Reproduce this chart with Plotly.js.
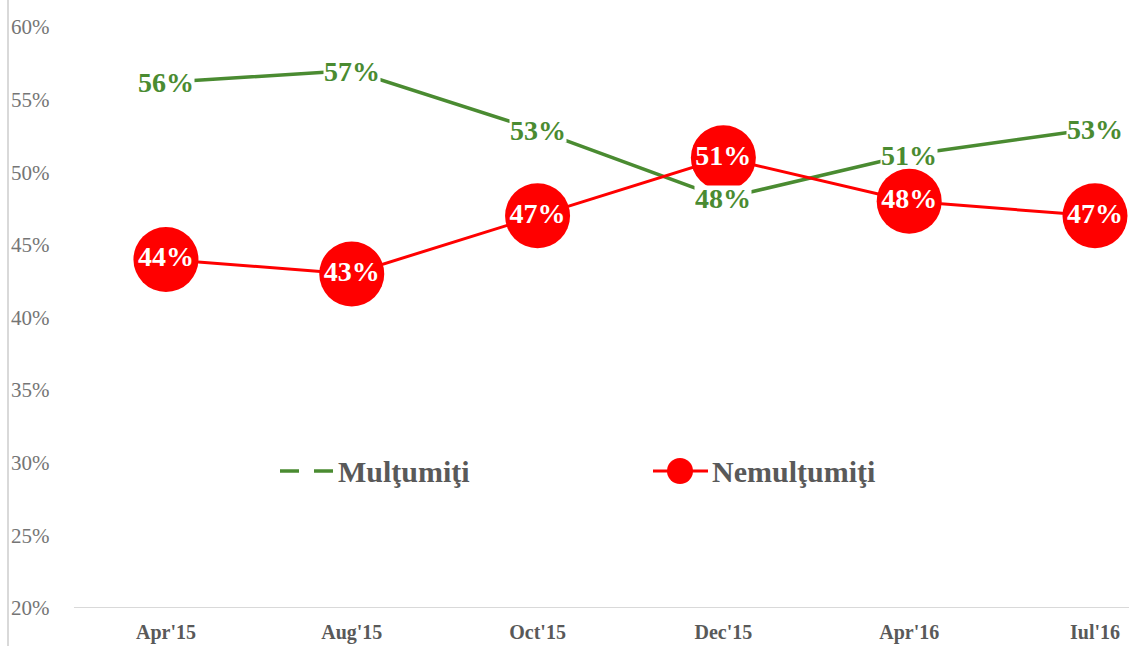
<!DOCTYPE html>
<html>
<head>
<meta charset="utf-8">
<script src="https://cdn.plot.ly/plotly-3.0.1.min.js"></script>
<style>html,body{margin:0;padding:0;background:#fff;}#chart{width:1129px;height:646px;}</style>
</head>
<body>
<div id="chart"></div>
<script>
const categories = ["Apr'15", "Aug'15", "Oct'15", "Dec'15", "Apr'16", "Iul'16"];
const multumiti = [56.2, 57.0, 52.9, 48.2, 51.2, 53.0];
const nemultumiti = [44.0, 43.0, 47.0, 51.0, 48.0, 47.0];
const multumitiLabels = ["56%", "57%", "53%", "48%", "51%", "53%"];
const nemultumitiLabels = ["44%", "43%", "47%", "51%", "48%", "47%"];
const seriesNames = ["Mulţumiţi", "Nemulţumiţi"];

const GREEN = '#4A8B31';
const RED = '#FF0000';
const FONT = 'Liberation Serif';

const traces = [
  {
    x: categories, y: multumiti, name: seriesNames[0], type: 'scatter', mode: 'lines',
    line: {color: GREEN, width: 3.5}, showlegend: false, hoverinfo: 'skip', cliponaxis: false
  },
  {
    x: categories, y: nemultumiti, name: seriesNames[1], type: 'scatter', mode: 'lines+markers+text',
    line: {color: RED, width: 3}, marker: {size: 65, color: RED},
    text: nemultumitiLabels, textposition: 'middle center',
    textfont: {family: FONT, size: 28, color: '#FFFFFF', weight: 'bold'},
    showlegend: false, hoverinfo: 'skip', cliponaxis: false
  }
];

const px = p => (p - 8) / 1121;
const py = p => (608 - p) / 608;
const LY = 471;

const annotations = categories.map((c, i) => ({
  x: c, y: multumiti[i], xref: 'x', yref: 'y', text: multumitiLabels[i], showarrow: false,
  font: {family: FONT, size: 28, color: GREEN, weight: 'bold'},
  bgcolor: '#FFFFFF', borderpad: 0, height: 24, xanchor: 'center', yanchor: 'middle'
}));
annotations.push(
  {x: px(336), y: py(LY), xref: 'paper', yref: 'paper', text: seriesNames[0], showarrow: false,
   xanchor: 'left', yanchor: 'middle', font: {family: FONT, size: 30, color: '#595959', weight: 'bold'}},
  {x: px(710), y: py(LY), xref: 'paper', yref: 'paper', text: seriesNames[1], showarrow: false,
   xanchor: 'left', yanchor: 'middle', font: {family: FONT, size: 30, color: '#595959', weight: 'bold'}}
);

const shapes = [
  {type: 'line', xref: 'paper', yref: 'paper', x0: 0, x1: 0, y0: -38/608, y1: 1, line: {color: '#D9D9D9', width: 2}},
  {type: 'line', xref: 'x', yref: 'y', x0: -0.495, x1: 5.183, y0: 20, y1: 20, line: {color: '#D9D9D9', width: 2}},
  {type: 'line', xref: 'paper', yref: 'paper', x0: px(280), x1: px(299), y0: py(LY), y1: py(LY), line: {color: GREEN, width: 3.5}},
  {type: 'line', xref: 'paper', yref: 'paper', x0: px(314), x1: px(333), y0: py(LY), y1: py(LY), line: {color: GREEN, width: 3.5}},
  {type: 'line', xref: 'paper', yref: 'paper', x0: px(653), x1: px(708), y0: py(LY), y1: py(LY), line: {color: RED, width: 3}},
  {type: 'circle', xref: 'paper', yref: 'paper', x0: px(667), x1: px(693), y0: py(LY + 13), y1: py(LY - 13),
   fillcolor: RED, line: {color: RED, width: 0}}
];

const layout = {
  width: 1129, height: 646,
  margin: {l: 8, r: 0, t: 0, b: 38, pad: 0},
  paper_bgcolor: '#FFFFFF', plot_bgcolor: '#FFFFFF',
  font: {family: FONT},
  showlegend: false,
  xaxis: {
    type: 'category', range: [-0.85, 5.183], showgrid: false, zeroline: false, showline: false,
    ticks: '', tickfont: {family: FONT, size: 20, color: '#595959', weight: 'bold'},
    ticklabelstandoff: 10, fixedrange: true
  },
  yaxis: {
    range: [20, 61.86], tick0: 20, dtick: 5, ticksuffix: '%', showgrid: false, zeroline: false, showline: false,
    ticks: '', ticklabelposition: 'inside', ticklabeloverflow: 'allow',
    tickfont: {family: FONT, size: 21, color: '#757575'}, fixedrange: true
  },
  shapes: shapes,
  annotations: annotations
};

Plotly.newPlot('chart', traces, layout, {displayModeBar: false, staticPlot: true});
</script>
</body>
</html>
